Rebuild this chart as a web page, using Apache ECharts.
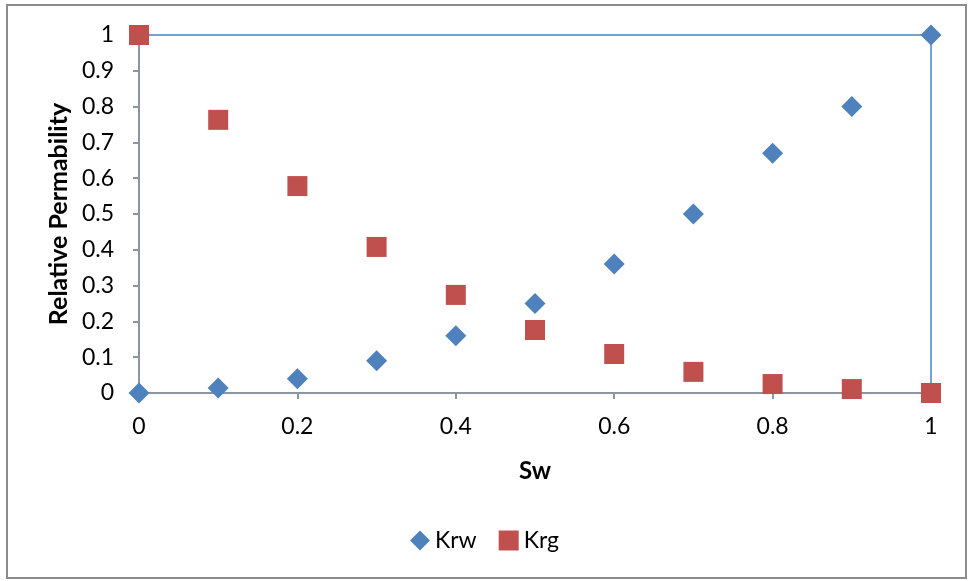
<!DOCTYPE html>
<html><head><meta charset="utf-8">
<script src="https://cdn.jsdelivr.net/npm/echarts@6/dist/echarts.min.js"></script>
<style>html,body{margin:0;padding:0;background:#fff}#c{width:969px;height:581px}</style>
</head><body><div id="c"></div>
<script>
const sw = [0,0.1,0.2,0.3,0.4,0.5,0.6,0.7,0.8,0.9,1];
const krw = [0,0.014,0.04,0.09,0.16,0.25,0.36,0.5,0.67,0.8,1];
const krg = [1,0.763,0.578,0.408,0.274,0.176,0.109,0.059,0.025,0.011,0];
const F = 'Lato, "Open Sans", sans-serif';
const chart = echarts.init(document.getElementById('c'));
chart.setOption({
  animation:false,
  graphic:[{type:'rect',shape:{x:7,y:5,width:959,height:573},style:{fill:'none',stroke:'#8c8c8c',lineWidth:2},z:-1}],
  grid:{left:139,top:35,width:792,height:358,show:true,borderColor:'#4F81BD',borderWidth:1.5,backgroundColor:'transparent'},
  legend:{bottom:24,left:'center',itemGap:22,itemWidth:20,itemHeight:20,
    textStyle:{fontFamily:F,fontSize:23,color:'#000'},
    data:[{name:'Krw',icon:'diamond'},{name:'Krg',icon:'rect'}]},
  xAxis:{type:'value',min:0,max:1,interval:0.2,name:'Sw',nameLocation:'middle',nameGap:66,
    nameTextStyle:{fontFamily:F,fontSize:24,fontWeight:'bold',color:'#000'},
    axisLine:{onZero:false,lineStyle:{color:'#8C96A0',width:2}},
    axisTick:{show:true,length:6,lineStyle:{color:'#8C96A0',width:2}},
    axisLabel:{fontFamily:F,fontSize:23,color:'#000',margin:22},
    splitLine:{show:false}},
  yAxis:{type:'value',min:0,max:1,interval:0.1,name:'Relative Permability',nameLocation:'middle',nameGap:65,
    nameTextStyle:{fontFamily:F,fontSize:25,fontWeight:'bold',color:'#000'},
    axisLine:{show:true,onZero:false,lineStyle:{color:'#8C96A0',width:2}},
    axisTick:{show:true,length:6,lineStyle:{color:'#8C96A0',width:2}},
    axisLabel:{fontFamily:F,fontSize:23,color:'#000',margin:25,formatter:v=>String(Math.round(v*10)/10)},
    splitLine:{show:false}},
  series:[
    {name:'Krw',type:'scatter',symbol:'diamond',symbolSize:21,itemStyle:{color:'#4F81BD',opacity:1},
      data:sw.map((x,i)=>[x,krw[i]]),z:3},
    {name:'Krg',type:'scatter',symbol:'rect',symbolSize:20,itemStyle:{color:'#C0504D',opacity:1},
      data:sw.map((x,i)=>[x,krg[i]]),z:4}
  ]
});
</script></body></html>
